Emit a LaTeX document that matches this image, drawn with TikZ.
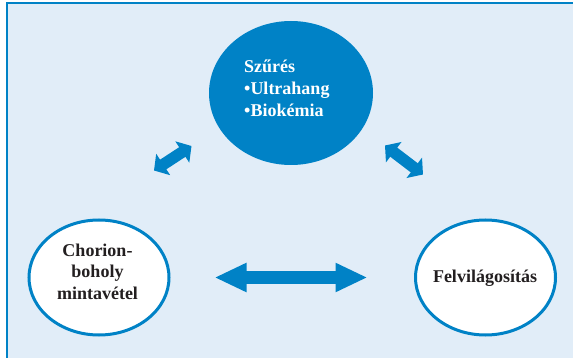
\documentclass[tikz,border=0pt]{standalone}
\usepackage{fontspec}
\setmainfont{Liberation Serif}
\usetikzlibrary{shapes.geometric,arrows.meta}
\definecolor{mainblue}{RGB}{0,130,198}
\definecolor{bgblue}{RGB}{225,237,248}
\definecolor{txtdark}{RGB}{35,31,32}
\begin{document}
\begin{tikzpicture}[x=1pt,y=-1pt,
  circ/.style={ellipse, draw=mainblue, line width=3pt, fill=white,
    minimum width=140pt, minimum height=115pt, inner sep=0pt},
  topcirc/.style={ellipse, fill=mainblue, draw=none,
    minimum width=164pt, minimum height=144pt, inner sep=0pt},
  lbl/.style={font=\bfseries\fontsize{18}{21.2}\selectfont, text=txtdark, align=center, inner sep=0pt},
  toplbl/.style={font=\bfseries\fontsize{18}{22.2}\selectfont, text=white, align=left, inner sep=0pt},
  harrow/.style={draw=mainblue, line width=12.5pt,
    {Triangle[length=32pt,width=27pt]}-{Triangle[length=32pt,width=27pt]}},
  darrow/.style={draw=mainblue, line width=11.5pt,
    {Triangle[length=11pt,width=25pt]}-{Triangle[length=11pt,width=25pt]}}]
\useasboundingbox (0,0) rectangle (573,358);
% frame
\fill[bgblue] (7,3) rectangle (573,358);
\draw[mainblue, line width=2.2pt] (7,358) -- (7,3) -- (573,3);
% nodes
\node[topcirc] (szures) at (291,93) {};
\node[toplbl, anchor=west] (sztext) at (244,88.3) {Szűrés\\•Ultrahang\\•Biokémia};
\node[circ] (chor) at (99,277.5) {};
\node[lbl] (chortext) at (97.5,271.7) {Chorion-\\boholy\\mintavétel};
\node[circ] (felv) at (485.5,277.5) {};
\node[lbl] (felvtext) at (485,278) {Felvilágosítás};
% connectors
\draw[harrow, shorten <=44pt, shorten >=46.5pt] (chor) -- (felv);
\coordinate (dl1) at (154,170.5);
\coordinate (dl2) at (191.5,146);
\coordinate (dr1) at (385,145.5);
\coordinate (dr2) at (423,174.5);
\draw[darrow] (dl1) -- (dl2);
\draw[darrow] (dr1) -- (dr2);
\end{tikzpicture}
\end{document}
